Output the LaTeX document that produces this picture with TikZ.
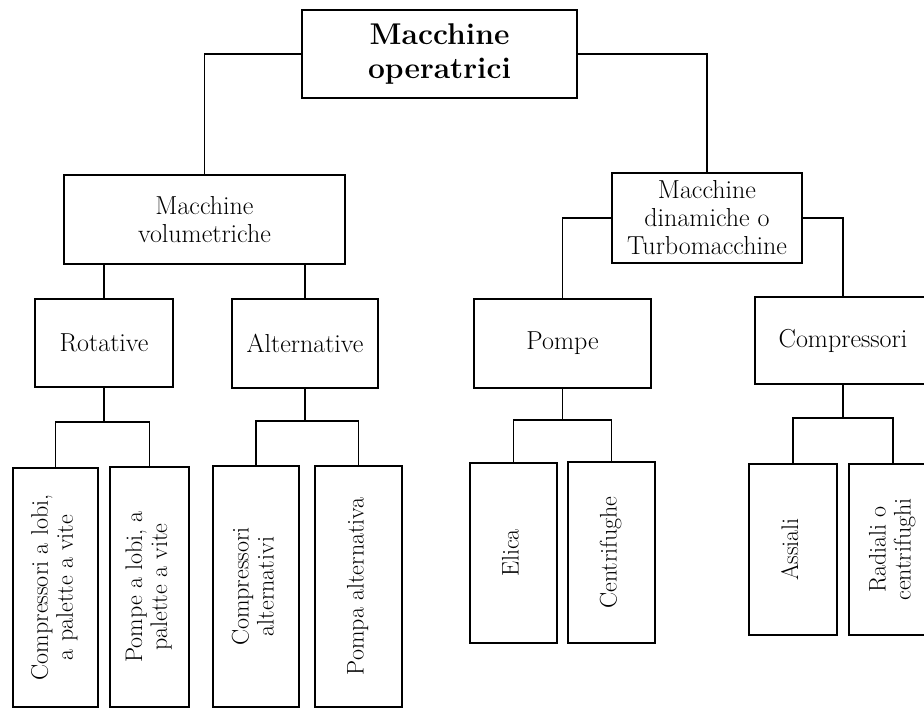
\documentclass[tikz,border=0pt]{standalone}
\usepackage{fontspec}
\usepackage{graphicx}

\newcommand{\ruotato}[1]{\rotatebox{90}{\begin{tabular}{@{}c@{}}#1\end{tabular}}}

\begin{document}
\begin{tikzpicture}[x=1pt,y=-1pt,
  mainbox/.style={draw,line width=2.4pt,inner sep=0pt,align=center,font=\fontsize{30}{34}\selectfont\bfseries},
  groupbox/.style={draw,line width=2.4pt,inner sep=0pt,align=center,font=\fontsize{26}{28}\selectfont},
  typebox/.style={draw,line width=1.8pt,inner sep=0pt,align=center,font=\fontsize{26}{28}\selectfont},
  leafbox/.style={draw,line width=2pt,inner sep=0pt,font=\fontsize{24}{25}\selectfont},
  link/.style={line width=1.3pt}]
\useasboundingbox (0,0) rectangle (924,709);

% livello 1 e 2
\node[mainbox, minimum width=275pt, minimum height=88pt] (top) at (439.5,54) {Macchine\\operatrici};
\node[groupbox, minimum width=281pt, minimum height=89pt] (vol) at (204.5,219.5) {Macchine\\volumetriche};
\node[groupbox, minimum width=190pt, minimum height=90pt] (dyn) at (707,218) {Macchine\\dinamiche o\\Turbomacchine};

% livello 3
\node[typebox, minimum width=138pt, minimum height=88pt] (rot) at (104,343) {Rotative};
\node[typebox, minimum width=146pt, minimum height=89pt] (alt) at (305,343.5) {Alternative};
\node[typebox, minimum width=177pt, minimum height=89pt] (pom) at (562.5,343.5) {Pompe};
\node[typebox, minimum width=176pt, minimum height=87pt] (com) at (843,340.5) {Compressori};

% livello 4
\node[leafbox, minimum width=85pt, minimum height=239pt] (cl1) at (55.5,587.5) {\ruotato{Compressori a lobi,\\a palette a vite}};
\node[leafbox, minimum width=79pt, minimum height=240pt] (cl2) at (149.5,587) {\ruotato{Pompe a lobi, a\\palette a vite}};
\node[leafbox, minimum width=86pt, minimum height=241pt] (al1) at (256,586.5) {\ruotato{Compressori\\alternativi}};
\node[leafbox, minimum width=87pt, minimum height=241pt] (al2) at (358.5,586.5) {\ruotato{Pompa alternativa}};
\node[leafbox, minimum width=87pt, minimum height=180pt] (po1) at (513.5,553) {\ruotato{Elica}};
\node[leafbox, minimum width=87pt, minimum height=181pt] (po2) at (611.5,552.5) {\ruotato{Centrifughe}};
\node[leafbox, minimum width=88pt, minimum height=171pt] (co1) at (793,549.5) {\ruotato{Assiali}};
\node[leafbox, minimum width=88pt, minimum height=171pt] (co2) at (893,549.5) {\ruotato{Radiali o\\centrifughi}};

\coordinate (rotfork) at (104,422);
\coordinate (altfork) at (305,421);
\coordinate (pomfork) at (562.5,420);
\coordinate (comfork) at (843,418);

% collegamenti
\draw[link] (top.west) -| (vol.north);
\draw[link] (top.east) -| (dyn.north);
\draw[link] (rot.north |- vol.south) -- (rot.north);
\draw[link] (alt.north |- vol.south) -- (alt.north);
\draw[link] (dyn.west) -| (pom.north);
\draw[link] (dyn.east) -| (com.north);

\draw[link] (rot.south) -- (rotfork);
\draw[link] (cl1.north) |- (rotfork) -| (cl2.north);
\draw[link] (alt.south) -- (altfork);
\draw[link] (al1.north) |- (altfork) -| (al2.north);
\draw[link] (pom.south) -- (pomfork);
\draw[link] (po1.north) |- (pomfork) -| (po2.north);
\draw[link] (com.south) -- (comfork);
\draw[link] (co1.north) |- (comfork) -| (co2.north);
\end{tikzpicture}
\end{document}
